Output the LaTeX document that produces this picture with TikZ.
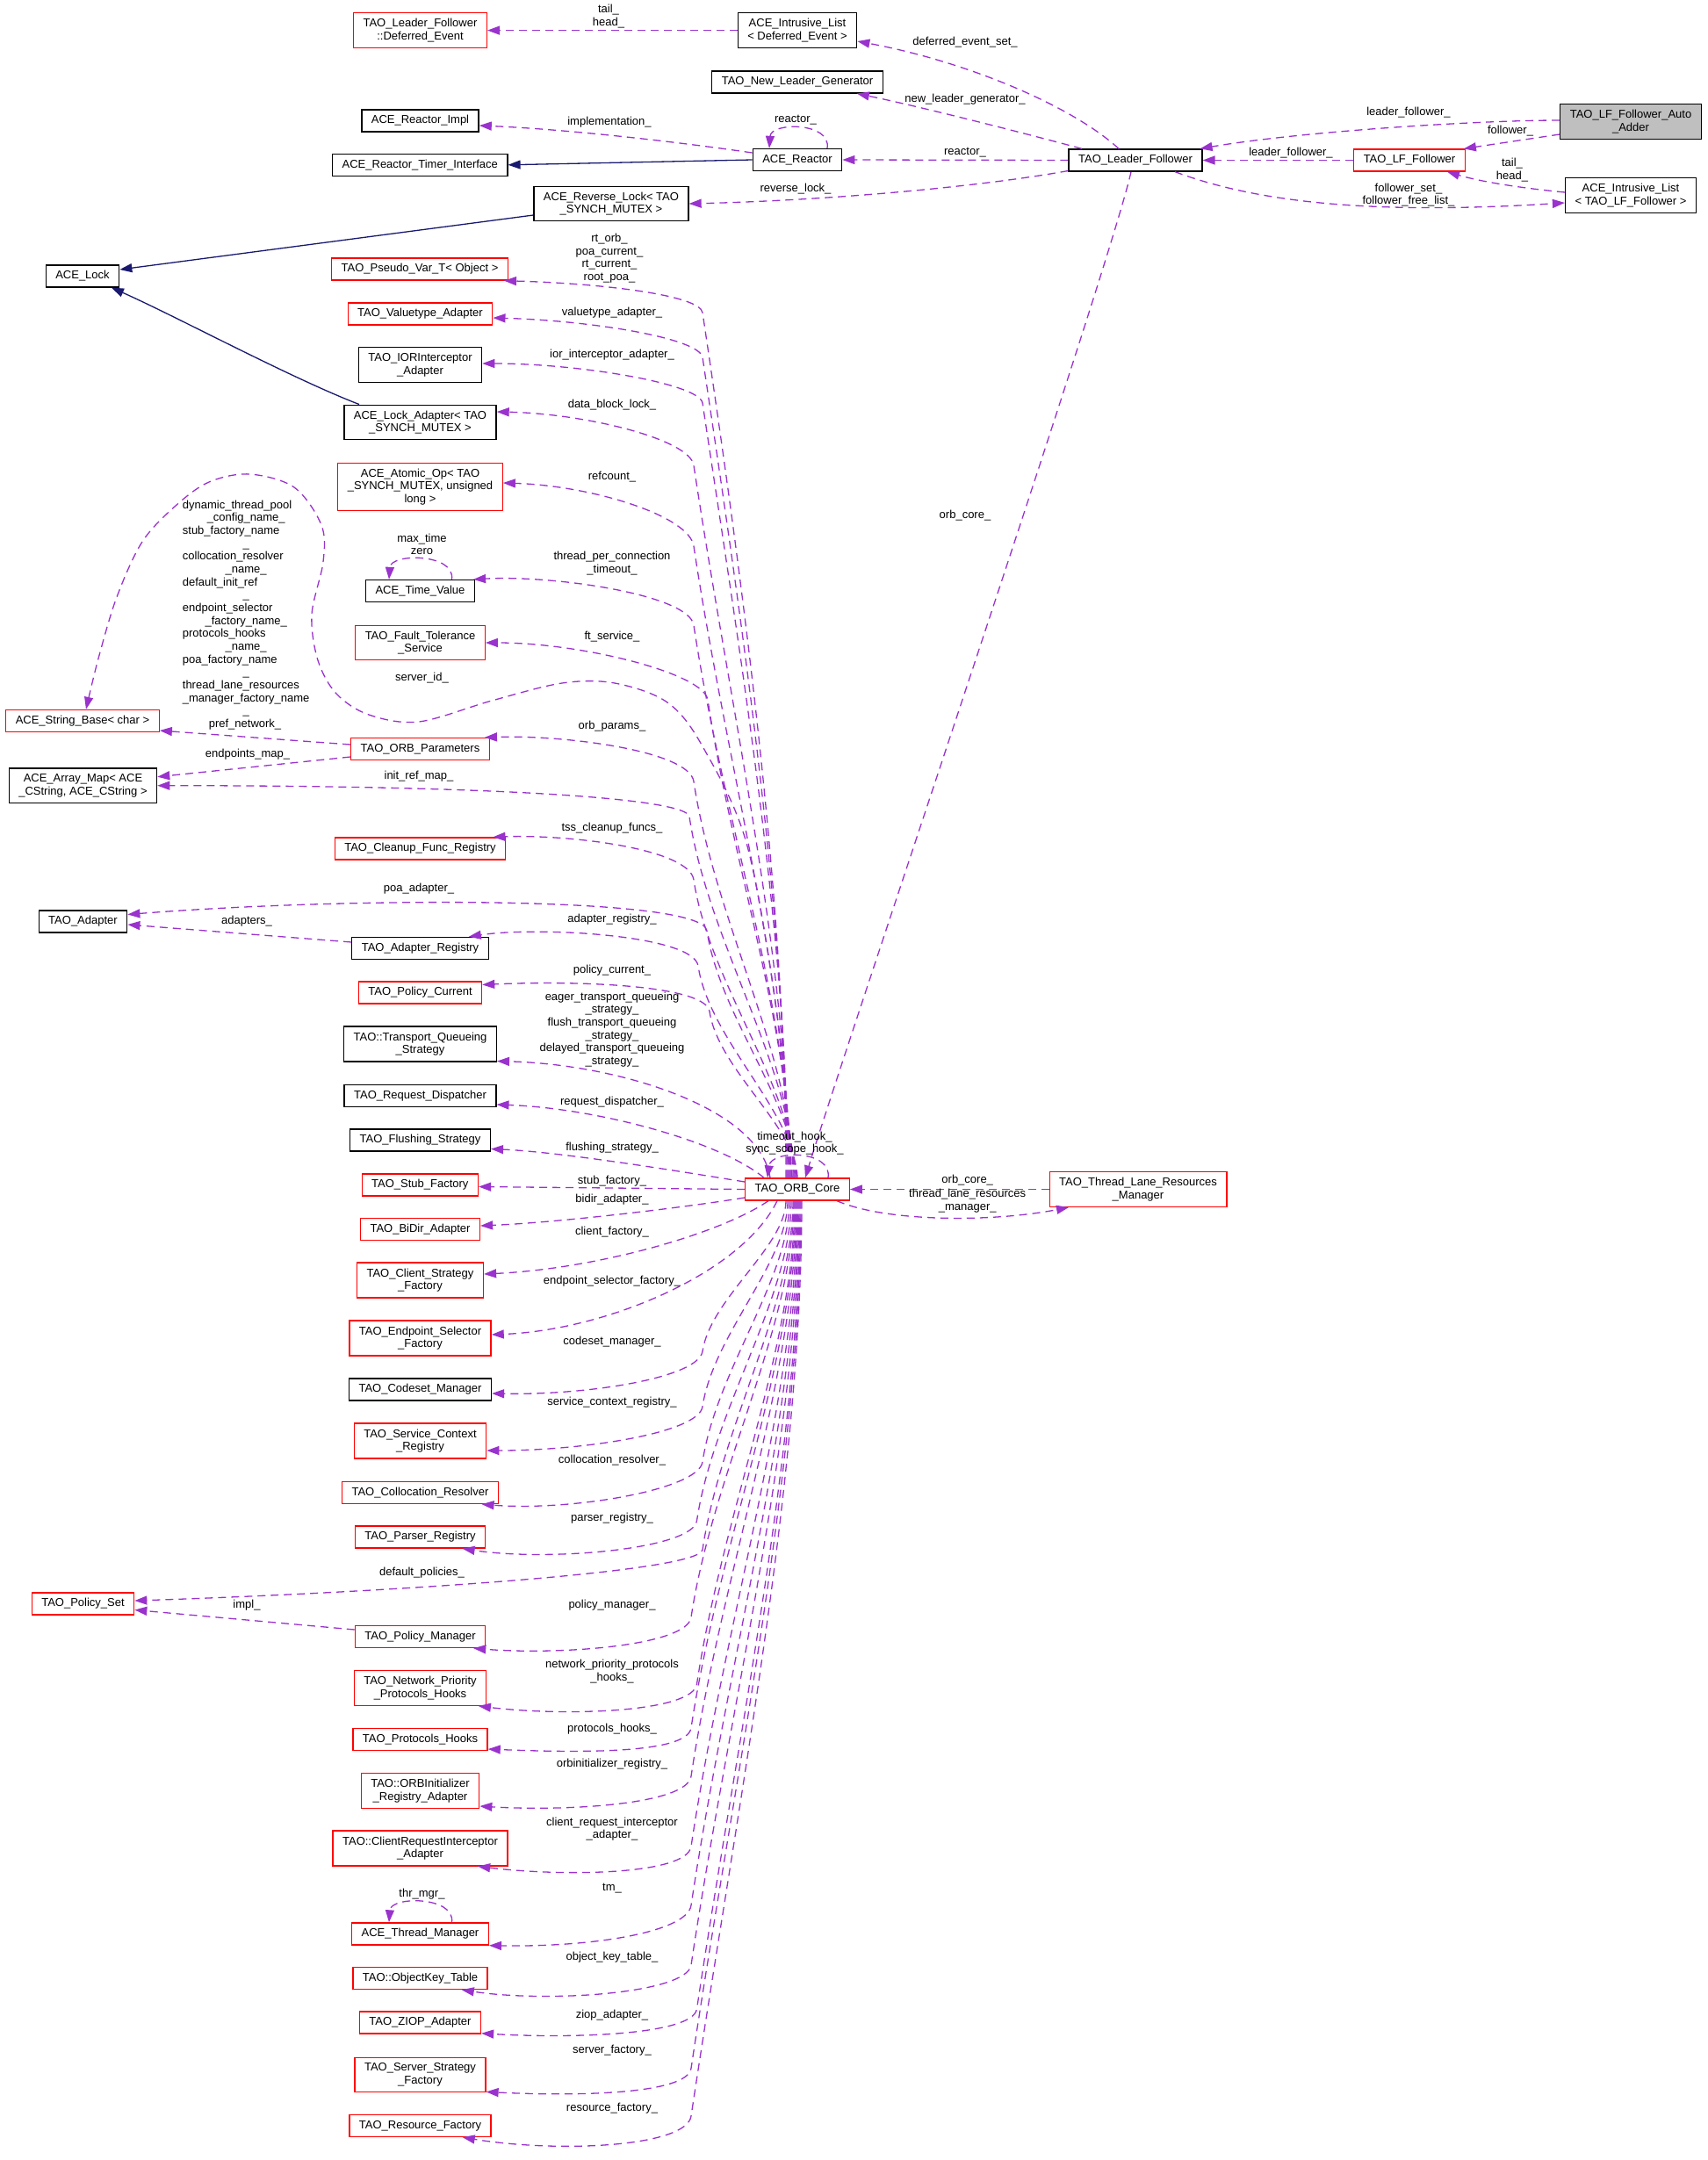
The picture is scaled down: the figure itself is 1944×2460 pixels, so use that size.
\documentclass[tikz,border=0pt]{standalone}
\usepackage{fontspec}
\setmainfont{Liberation Sans}
\usetikzlibrary{arrows.meta,calc}
\definecolor{dorch}{HTML}{9A32CD}
\definecolor{mnblue}{HTML}{191970}
\definecolor{greyfill}{HTML}{BFBFBF}
\newcommand\ctrln[1]{\makebox[144.6pt][c]{#1}}
\newcommand\upedge[7]{%
  \pgfmathsetmacro\qA{0.3*(1342-#3)}%
  \pgfmathsetmacro\qCx{#2+0.0525*(1342-#3)}%
  \pgfmathsetmacro\qCy{#3+0.35*(1342-#3)}%
  \pgfmathsetmacro\qTx{#2-0.15*#7}%
  \pgfmathsetmacro\qTy{#3-#7}%
  \draw[dep] (#1) .. controls +(0,-\qA) and (\qCx,\qCy) .. (#2,#3) .. controls (\qTx,\qTy) and +(#5,#6) .. (#4);}
\newcommand\loedge[7]{%
  \pgfmathsetmacro\qA{0.3*(#3-1367)}%
  \pgfmathsetmacro\qCx{#2+0.0525*(#3-1367)}%
  \pgfmathsetmacro\qCy{#3-0.35*(#3-1367)}%
  \pgfmathsetmacro\qTx{#2-0.15*#7}%
  \pgfmathsetmacro\qTy{#3+#7}%
  \draw[dep] (#1) .. controls +(0,\qA) and (\qCx,\qCy) .. (#2,#3) .. controls (\qTx,\qTy) and +(#5,#6) .. (#4);}
\begin{document}
\begin{tikzpicture}[x=1pt,y=-1pt,
  every node/.style={font=\fontsize{13}{14.66}\selectfont},
  box/.style={draw, line width=1.3pt, inner xsep=11pt, inner ysep=6.5pt, minimum height=25pt, align=center},
  rbox/.style={box, draw=red},
  kbox/.style={box, draw=black},
  gbox/.style={box, draw=black, fill=greyfill},
  lbl/.style={inner sep=0pt, align=center},
  dep/.style={draw=dorch, line width=1.3pt, dash pattern=on 9pt off 6pt, -{Triangle[length=14pt,width=10pt]}},
  inh/.style={draw=mnblue, line width=1.3pt, -{Triangle[length=14pt,width=10pt]}},
]
\useasboundingbox (0,0) rectangle (1944,2460);
% ---------------- nodes
\node[rbox] (defev) at (478.5,34.6) {TAO\_Leader\_Follower\\::Deferred\_Event};
\node[kbox] (ilde) at (908,34.6) {ACE\_Intrusive\_List\\< Deferred\_Event >};
\node[kbox] (nlg) at (908,93.4) {TAO\_New\_Leader\_Generator};
\node[kbox] (rimpl) at (478.5,137.5) {ACE\_Reactor\_Impl};
\node[kbox] (rti) at (478.3,187.8) {ACE\_Reactor\_Timer\_Interface};
\node[kbox] (reactor) at (908,182) {ACE\_Reactor};
\node[kbox] (revlock) at (696,232) {ACE\_Reverse\_Lock< TAO\\\_SYNCH\_MUTEX >};
\node[kbox] (lf) at (1293,182.5) {TAO\_Leader\_Follower};
\node[gbox] (lfaa) at (1857,138.5) {TAO\_LF\_Follower\_Auto\\\_Adder};
\node[rbox] (lff) at (1605,182.5) {TAO\_LF\_Follower};
\node[kbox] (illf) at (1857,222.5) {ACE\_Intrusive\_List\\< TAO\_LF\_Follower >};
\node[kbox] (acelock) at (94,314.5) {ACE\_Lock};
\node[rbox] (pvar) at (478,306.5) {TAO\_Pseudo\_Var\_T< Object >};
\node[rbox] (vta) at (478.5,357.5) {TAO\_Valuetype\_Adapter};
\node[kbox] (ior) at (478.5,415.5) {TAO\_IORInterceptor\\\_Adapter};
\node[kbox] (lad) at (478.5,481) {ACE\_Lock\_Adapter< TAO\\\_SYNCH\_MUTEX >};
\node[rbox] (atom) at (478.5,554.5) {ACE\_Atomic\_Op< TAO\\\_SYNCH\_MUTEX, unsigned\\long >};
\node[kbox] (tv) at (478.5,673) {ACE\_Time\_Value};
\node[rbox] (ft) at (478.5,732) {TAO\_Fault\_Tolerance\\\_Service};
\node[rbox] (sb) at (94,821) {ACE\_String\_Base< char >};
\node[rbox] (orbp) at (478.5,853) {TAO\_ORB\_Parameters};
\node[kbox] (am) at (94.5,894.7) {ACE\_Array\_Map< ACE\\\_CString, ACE\_CString >};
\node[rbox] (cfr) at (478.5,966.5) {TAO\_Cleanup\_Func\_Registry};
\node[kbox] (ad) at (94.5,1049.5) {TAO\_Adapter};
\node[kbox] (adr) at (478.5,1080) {TAO\_Adapter\_Registry};
\node[rbox] (pc) at (478.5,1130.5) {TAO\_Policy\_Current};
\node[kbox] (tqs) at (478.5,1189) {TAO::Transport\_Queueing\\\_Strategy};
\node[kbox] (rd) at (478.5,1248) {TAO\_Request\_Dispatcher};
\node[kbox] (fs) at (478.5,1298.5) {TAO\_Flushing\_Strategy};
\node[rbox] (stub) at (478.3,1349.5) {TAO\_Stub\_Factory};
\node[rbox] (bidir) at (478.5,1400) {TAO\_BiDir\_Adapter};
\node[rbox] (csf) at (478.5,1458) {TAO\_Client\_Strategy\\\_Factory};
\node[rbox] (esf) at (478.5,1524) {TAO\_Endpoint\_Selector\\\_Factory};
\node[kbox] (cm) at (478.5,1582.5) {TAO\_Codeset\_Manager};
\node[rbox] (scr) at (478.5,1641) {TAO\_Service\_Context\\\_Registry};
\node[rbox] (cr) at (478.5,1700) {TAO\_Collocation\_Resolver};
\node[rbox] (pr) at (478.5,1750.5) {TAO\_Parser\_Registry};
\node[rbox] (ps) at (94.5,1826.5) {TAO\_Policy\_Set};
\node[rbox] (pm) at (478.5,1864) {TAO\_Policy\_Manager};
\node[rbox] (npph) at (478.5,1922.5) {TAO\_Network\_Priority\\\_Protocols\_Hooks};
\node[rbox] (ph) at (478.5,1981) {TAO\_Protocols\_Hooks};
\node[rbox] (orbi) at (478.5,2039.5) {TAO::ORBInitializer\\\_Registry\_Adapter};
\node[rbox] (cri) at (478.5,2105) {TAO::ClientRequestInterceptor\\\_Adapter};
\node[rbox] (tm) at (478.5,2202.5) {ACE\_Thread\_Manager};
\node[rbox] (okt) at (478.5,2253) {TAO::ObjectKey\_Table};
\node[rbox] (ziop) at (478.5,2303.5) {TAO\_ZIOP\_Adapter};
\node[rbox] (ssf) at (478.5,2363) {TAO\_Server\_Strategy\\\_Factory};
\node[rbox] (rf) at (478.5,2421) {TAO\_Resource\_Factory};
\node[rbox] (orb) at (908,1354.5) {TAO\_ORB\_Core};
\node[rbox] (tlrm) at (1296,1354.5) {TAO\_Thread\_Lane\_Resources\\\_Manager};
% ---------------- top edges
\draw[dep] (ilde.west) -- (defev.east);
\draw[dep] ([xshift=-19pt]lf.north) .. controls (1220,120) and (1100,70) .. ([yshift=-12.4pt]ilde.east);
\draw[dep] ([xshift=-61pt]lf.north) .. controls (1160,150) and (1050,122) .. ([xshift=-30pt]nlg.south east);
\draw[dep] (lf.west) -- (reactor.east);
\draw[dep] ([xshift=34pt]reactor.north) .. controls +(5,-30) and +(2,-30) .. ([xshift=-32pt]reactor.north);
\draw[dep] ([yshift=8pt]reactor.west) .. controls (760,160) and (640,147) .. ([yshift=-5.5pt]rimpl.east);
\draw[inh] (reactor.west) -- (rti.east);
\draw[dep] ([yshift=-12pt]lf.west) .. controls (1120,212) and (950,228) .. (revlock.east);
\draw[inh] ([yshift=-13pt]revlock.west) -- ([yshift=7.5pt]acelock.east);
\draw[inh] ([xshift=-69.5pt]lad.north) .. controls (330,430) and (200,360) .. ([xshift=33pt]acelock.south);
\draw[dep] ([yshift=1.5pt]lfaa.west) .. controls (1680,137) and (1480,150) .. ([xshift=-3pt]lf.north east);
\draw[dep] ([yshift=-14.5pt]lfaa.west) -- ([xshift=-2pt]lff.north east);
\draw[dep] (lff.west) -- (lf.east);
\draw[dep] ([yshift=3.5pt]illf.west) .. controls (1740,215) and (1690,208) .. ([xshift=43pt]lff.south);
\draw[dep] ([xshift=45pt]lf.south) .. controls (1430,230) and (1560,245) .. ([yshift=-8.5pt]illf.west);
\draw[dep] ([xshift=-5pt]lf.south) .. controls (1265,300) and (960,1200) .. ([xshift=9pt]orb.north);
\draw[dep] ([xshift=35pt]orb.north) .. controls +(5,-32) and +(4,-32) .. ([xshift=-34pt]orb.north);
\draw[dep] (tlrm.west) -- (orb.east);
\draw[dep] ([xshift=45pt]orb.south) .. controls (1010,1392) and (1130,1392) .. ([xshift=-79pt]tlrm.south);
% ---------------- left straight edges
\draw[dep] ([yshift=5pt]orbp.west) -- ([yshift=-11pt]sb.east);
\draw[dep] ([yshift=-9pt]orbp.west) -- ([yshift=10pt]am.east);
\draw[dep] ([yshift=7pt]adr.west) -- ([yshift=-3.5pt]ad.east);
\draw[dep] ([yshift=8pt]pm.west) -- ([yshift=-7pt]ps.east);
% ---------------- self loops
\draw[dep] ([xshift=36pt]tv.north) .. controls +(4,-30) and +(2,-30) .. ([xshift=-35.5pt]tv.north);
\draw[dep] ([xshift=36pt]tm.north) .. controls +(4,-30) and +(2,-30) .. ([xshift=-35.5pt]tm.north);
% ---------------- big loop to string base
\draw[dep] plot[smooth, tension=0.55] coordinates {([xshift=-6pt]orb.north) (884,1150) (850,960) (800,850) (760,800) (700,778) (640,778) (560,798) (477,822) (420,814) (383,790) (362,752) (355,700) (368,640) (366,598) (335,555) (284,540) (238,549) (200,576) (162,617) (133,680) (112,750) ([xshift=4pt]sb.north)};
% ---------------- ORB fan, upper
\upedge{[xshift=-13pt]orb.north}{800}{356}{[xshift=-5pt]pvar.south east}{110}{3}{20}
\upedge{[xshift=-12pt]orb.north}{800}{407}{[yshift=-4.5pt]vta.east}{110}{3}{22}
\upedge{[xshift=-11pt]orb.north}{800}{459}{[yshift=1.5pt]ior.east}{110}{0}{22}
\upedge{[xshift=-10pt]orb.north}{790}{530}{[yshift=12pt]lad.east}{100}{2}{30}
\upedge{[xshift=-9pt]orb.north}{790}{622}{[yshift=4.5pt]atom.east}{100}{3}{35}
\upedge{[xshift=-8pt]orb.north}{790}{712}{[xshift=-2pt]tv.north east}{90}{-5}{35}
\upedge{[xshift=-7pt]orb.north}{806}{797}{ft.east}{110}{0}{30}
\upedge{[xshift=-5pt]orb.north}{790}{890}{[xshift=-6pt]orbp.north east}{90}{-3}{35}
\upedge{[xshift=-4pt]orb.north}{785}{930}{am.east}{400}{0}{20}
\upedge{[xshift=-3pt]orb.north}{790}{1002}{[xshift=-15pt]cfr.north east}{90}{-3}{35}
\upedge{[xshift=-2pt]orb.north}{805}{1060}{[yshift=8pt]ad.east}{250}{-20}{40}
\upedge{[xshift=-1pt]orb.north}{795}{1100}{[xshift=-23pt]adr.north east}{80}{-12}{35}
\upedge{orb.north}{808}{1152}{[yshift=9pt]pc.east}{110}{-5}{30}
\draw[dep] ([xshift=-31pt]orb.north) .. controls (865,1262) and (705,1212) .. ([yshift=1pt]tqs.south east);
\draw[dep] ([xshift=-38pt]orb.north) .. controls (820,1300) and (680,1262) .. ([yshift=-10pt]rd.east);
\draw[dep] ([yshift=8.5pt]orb.west) .. controls (780,1335) and (640,1312) .. ([yshift=-10pt]fs.east);
\draw[dep] (orb.west) -- ([yshift=-2pt]stub.east);
\draw[dep] ([yshift=-9.5pt]orb.west) .. controls (780,1375) and (640,1392) .. ([yshift=4pt]bidir.east);
% ---------------- ORB fan, lower
\draw[dep] ([xshift=-33pt]orb.south) .. controls (820,1405) and (680,1445) .. ([yshift=7pt]csf.east);
\draw[dep] ([xshift=-23pt]orb.south) .. controls (845,1450) and (690,1515) .. ([yshift=4pt]esf.east);
\loedge{[xshift=-13pt]orb.south}{800}{1539}{[yshift=-4.5pt]cm.east}{110}{2}{30}
\loedge{[xshift=-11pt]orb.south}{800}{1602}{[yshift=-11pt]scr.east}{110}{0}{30}
\loedge{[xshift=-9pt]orb.south}{800}{1665}{[xshift=-19.5pt]cr.south east}{100}{8}{32}
\loedge{[xshift=-7pt]orb.south}{793.5}{1732}{[xshift=-26.6pt]pr.south east}{100}{15}{32}
\loedge{[xshift=-5pt]orb.south}{800}{1765}{[yshift=3.5pt]ps.east}{300}{-10}{25}
\loedge{[xshift=-4pt]orb.south}{787}{1842}{[xshift=-14pt]pm.south east}{100}{8}{32}
\loedge{[xshift=-3pt]orb.south}{793.5}{1918}{[xshift=-9.4pt]npph.south east}{100}{12}{32}
\loedge{[xshift=-2pt]orb.south}{787}{1968}{[yshift=-11pt]ph.east}{100}{4}{30}
\loedge{[xshift=-1pt]orb.south}{787}{2023}{[yshift=-17.5pt]orbi.east}{100}{6}{32}
\loedge{orb.south}{787}{2103}{[xshift=-34.4pt]cri.south east}{100}{12}{32}
\loedge{[xshift=1pt]orb.south}{787}{2170}{tm.south east}{120}{2}{30}
\loedge{[xshift=2pt]orb.south}{787}{2238}{[xshift=-30pt]okt.south east}{100}{15}{32}
\loedge{[xshift=3pt]orb.south}{793.5}{2288}{[yshift=1pt]ziop.south east}{100}{6}{30}
\loedge{[xshift=4pt]orb.south}{787}{2355.6}{[yshift=1pt]ssf.south east}{100}{5}{30}
\loedge{[xshift=5pt]orb.south}{787}{2410}{[xshift=-33pt]rf.south east}{110}{18}{35}
% ---------------- labels
\node[lbl] (l01) at (693,18.8) {tail\_\\head\_};
\node[lbl] (l02) at (1099,48) {deferred\_event\_set\_};
\node[lbl] (l03) at (1099,113) {new\_leader\_generator\_};
\node[lbl] (l04) at (694,139) {implementation\_};
\node[lbl] (l05) at (906,136.5) {reactor\_};
\node[lbl] (l06) at (1099,174) {reactor\_};
\node[lbl] (l07) at (906,215) {reverse\_lock\_};
\node[lbl] (l08) at (1604,128.5) {leader\_follower\_};
\node[lbl] (l09) at (1720,148.7) {follower\_};
\node[lbl] (l10) at (1470,174) {leader\_follower\_};
\node[lbl] (l11) at (1722,193.5) {tail\_\\head\_};
\node[lbl] (l12) at (1604,222) {follower\_set\_\\follower\_free\_list\_};
\node[lbl] (l13) at (1099,587) {orb\_core\_};
\node[lbl] (l14) at (694,294) {rt\_orb\_\\poa\_current\_\\rt\_current\_\\root\_poa\_};
\node[lbl] (l15) at (697,356) {valuetype\_adapter\_};
\node[lbl] (l16) at (697,404.5) {ior\_interceptor\_adapter\_};
\node[lbl] (l17) at (697,460.6) {data\_block\_lock\_};
\node[lbl] (l18) at (697,543) {refcount\_};
\node[lbl] (l19) at (480.5,620) {max\_time\\zero};
\node[lbl] (l20) at (697,641.5) {thread\_per\_connection\\\_timeout\_};
\node[lbl] (l21) at (697,725) {ft\_service\_};
\node[lbl] (l22) at (480.5,772) {server\_id\_};
\node[lbl, anchor=north west, align=left] (l23) at (207.7,569.5) {dynamic\_thread\_pool\\\ctrln{\_config\_name\_}\\stub\_factory\_name\\\ctrln{\_}\\collocation\_resolver\\\ctrln{\_name\_}\\default\_init\_ref\\\ctrln{\_}\\endpoint\_selector\\\ctrln{\_factory\_name\_}\\protocols\_hooks\\\ctrln{\_name\_}\\poa\_factory\_name\\\ctrln{\_}\\thread\_lane\_resources\\\_manager\_factory\_name\\\ctrln{\_}};
\node[lbl] (l24) at (279,825) {pref\_network\_};
\node[lbl] (l25) at (282,859) {endpoints\_map\_};
\node[lbl] (l26) at (697,827) {orb\_params\_};
\node[lbl] (l27) at (477,884.6) {init\_ref\_map\_};
\node[lbl] (l28) at (697,943) {tss\_cleanup\_funcs\_};
\node[lbl] (l29) at (477,1012) {poa\_adapter\_};
\node[lbl] (l30) at (281,1049) {adapters\_};
\node[lbl] (l31) at (697,1047) {adapter\_registry\_};
\node[lbl] (l32) at (697,1105) {policy\_current\_};
\node[lbl] (l33) at (697,1172.5) {eager\_transport\_queueing\\\_strategy\_\\flush\_transport\_queueing\\\_strategy\_\\delayed\_transport\_queueing\\\_strategy\_};
\node[lbl] (l34) at (697,1255) {request\_dispatcher\_};
\node[lbl] (l35) at (697,1307) {flushing\_strategy\_};
\node[lbl] (l36) at (697,1345) {stub\_factory\_};
\node[lbl] (l37) at (697,1366.6) {bidir\_adapter\_};
\node[lbl] (l38) at (697,1403) {client\_factory\_};
\node[lbl] (l39) at (697,1459) {endpoint\_selector\_factory\_};
\node[lbl] (l40) at (697,1528) {codeset\_manager\_};
\node[lbl] (l41) at (697,1597) {service\_context\_registry\_};
\node[lbl] (l42) at (697,1663) {collocation\_resolver\_};
\node[lbl] (l43) at (697,1729) {parser\_registry\_};
\node[lbl] (l44) at (480.5,1791) {default\_policies\_};
\node[lbl] (l45) at (281,1828.6) {impl\_};
\node[lbl] (l46) at (697,1828) {policy\_manager\_};
\node[lbl] (l47) at (697,1903.5) {network\_priority\_protocols\\\_hooks\_};
\node[lbl] (l48) at (697,1969) {protocols\_hooks\_};
\node[lbl] (l49) at (697,2009) {orbinitializer\_registry\_};
\node[lbl] (l50) at (697,2083) {client\_request\_interceptor\\\_adapter\_};
\node[lbl] (l51) at (480.5,2157) {thr\_mgr\_};
\node[lbl] (l52) at (697,2151) {tm\_};
\node[lbl] (l53) at (697,2229) {object\_key\_table\_};
\node[lbl] (l54) at (697,2295) {ziop\_adapter\_};
\node[lbl] (l55) at (697,2335) {server\_factory\_};
\node[lbl] (l56) at (697,2401) {resource\_factory\_};
\node[lbl] (l57) at (905,1302) {timeout\_hook\_\\sync\_scope\_hook\_};
\node[lbl] (l58) at (1101.7,1344) {orb\_core\_};
\node[lbl] (l59) at (1101.7,1367.5) {thread\_lane\_resources\\\_manager\_};
\end{tikzpicture}
\end{document}
